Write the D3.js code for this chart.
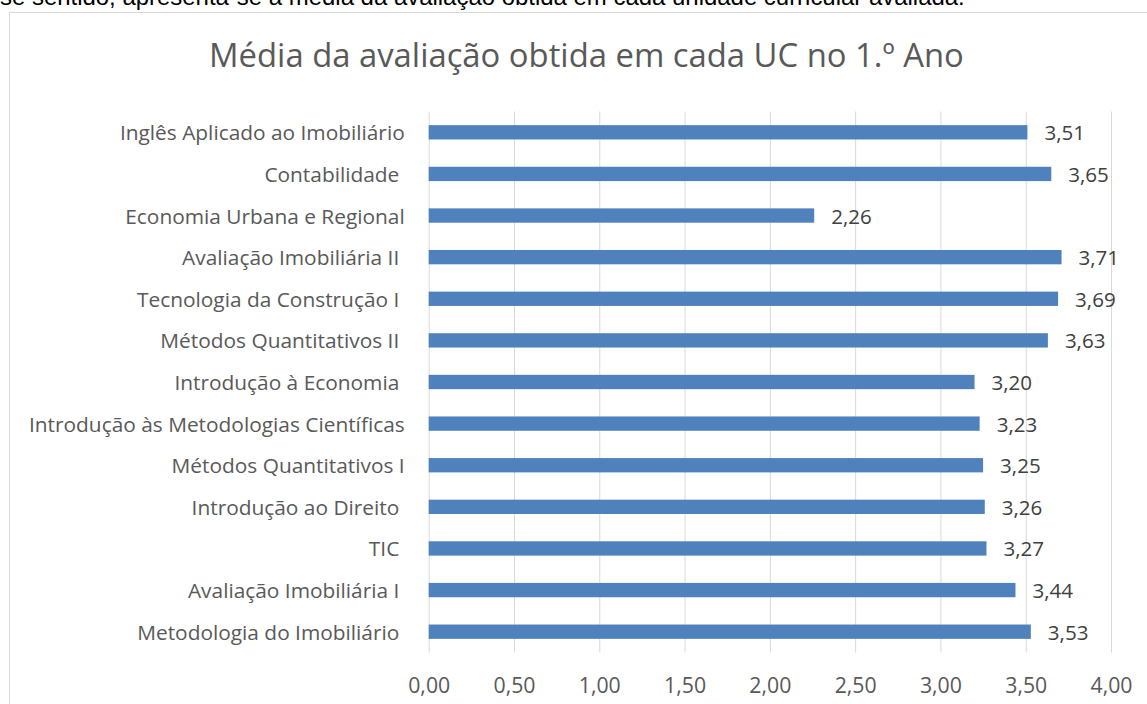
<!DOCTYPE html>
<html>
<head>
<meta charset="utf-8">
<script src="https://cdn.jsdelivr.net/npm/d3@7"></script>
<style>
  html, body { margin: 0; padding: 0; background: #fff; overflow: hidden; }
  svg { display: block; }
  text { white-space: pre; }
</style>
</head>
<body>
<script>
// data, top to bottom as shown (Excel labels keep their trailing spaces)
const categories = [
  "Inglês Aplicado ao Imobiliário",
  "Contabilidade ",
  "Economia Urbana e Regional",
  "Avaliação Imobiliária II ",
  "Tecnologia da Construção I ",
  "Métodos Quantitativos II ",
  "Introdução à Economia ",
  "Introdução às Metodologias Científicas",
  "Métodos Quantitativos I",
  "Introdução ao Direito ",
  "TIC ",
  "Avaliação Imobiliária I ",
  "Metodologia do Imobiliário "
];
const values = [3.51, 3.65, 2.26, 3.71, 3.69, 3.63, 3.20, 3.23, 3.25, 3.26, 3.27, 3.44, 3.53];
const xTicks = [0, 0.5, 1, 1.5, 2, 2.5, 3, 3.5, 4];
const chartTitle = "Média da avaliação obtida em cada UC no 1.º Ano";
const introText = "se sentido, apresenta-se a média da avaliação obtida em cada unidade curricular avaliada.";

const width = 1147, height = 704;
const font = "'Open Sans', sans-serif";
const pt = d3.formatLocale({decimal: ",", thousands: ".", grouping: [3], currency: ["", " €"]});
const fmt = pt.format(".2f");

const svg = d3.select("body").append("svg")
    .attr("width", width)
    .attr("height", height);

// pick a font size so a sample string gets the width it has in the picture
function fitSize(family, sample, target) {
  const t = svg.append("text").attr("font-family", family).attr("font-size", 100).text(sample);
  const w = t.node().getComputedTextLength();
  t.remove();
  return 100 * target / w;
}

const titleSize = fitSize(font, chartTitle, 755);
const catSize = fitSize(font, "Introdução às Metodologias Científicas", 376);
const valSize = fitSize(font, "2,26", 40.6);
const tickSize = fitSize(font, "3,50", 42);
const introSize = fitSize("'Liberation Sans', Arial, sans-serif", introText, 965);

// cut-off line of the document text above the chart
svg.append("text")
    .attr("x", 0)
    .attr("y", 5)
    .attr("font-family", "'Liberation Sans', Arial, sans-serif")
    .attr("font-size", introSize)
    .attr("fill", "#000")
    .text(introText);

// chart frame (runs off the right and bottom edge)
svg.append("rect")
    .attr("x", 9.5)
    .attr("y", 12.5)
    .attr("width", 1300)
    .attr("height", 900)
    .attr("fill", "#fff")
    .attr("stroke", "#d9d9d9")
    .attr("stroke-width", 1);

svg.append("text")
    .attr("x", 586.5)
    .attr("y", 67)
    .attr("text-anchor", "middle")
    .attr("font-family", font)
    .attr("font-size", titleSize)
    .attr("fill", "#595959")
    .text(chartTitle);

const plotLeft = 428.7, plotRight = 1111, plotTop = 111.5, plotBottom = 652.5;

const x = d3.scaleLinear()
    .domain([0, 4])
    .range([plotLeft, plotRight]);

const y = d3.scaleBand()
    .domain(categories)
    .range([plotTop, plotBottom])
    .paddingInner(0.656)
    .paddingOuter(0.328);

// vertical gridlines
const grid = svg.append("g")
    .attr("transform", `translate(0,${plotBottom})`)
    .call(d3.axisBottom(x).tickValues(xTicks).tickSize(-(plotBottom - plotTop)).tickFormat(""));
grid.select(".domain").remove();
grid.selectAll(".tick line").attr("stroke", "#d9d9d9").attr("stroke-width", 1);

// x tick labels
const xAxis = svg.append("g")
    .attr("transform", "translate(0,684)")
    .call(d3.axisBottom(x).tickValues(xTicks).tickSize(0).tickFormat(fmt));
xAxis.select(".domain").remove();
xAxis.selectAll("text")
    .attr("y", 0)
    .attr("dy", null)
    .attr("dominant-baseline", "central")
    .attr("font-family", font)
    .attr("font-size", tickSize)
    .attr("fill", "#595959");

// bars
svg.append("g")
    .attr("fill", "#4f81bd")
  .selectAll("rect")
  .data(values)
  .join("rect")
    .attr("x", x(0))
    .attr("y", (d, i) => y(categories[i]))
    .attr("width", d => x(d) - x(0))
    .attr("height", y.bandwidth());

// category labels
const yAxis = svg.append("g")
    .attr("transform", `translate(${plotLeft},0)`)
    .call(d3.axisLeft(y).tickSize(0));
yAxis.select(".domain").remove();
yAxis.selectAll("text")
    .attr("x", -24)
    .attr("dy", null)
    .attr("dominant-baseline", "central")
    .attr("text-anchor", "end")
    .attr("font-family", font)
    .attr("font-size", catSize)
    .attr("fill", "#595959");

// value labels
svg.append("g")
  .selectAll("text")
  .data(values)
  .join("text")
    .attr("x", d => x(d) + 17)
    .attr("y", (d, i) => y(categories[i]) + y.bandwidth() / 2)
    .attr("dominant-baseline", "central")
    .attr("font-family", font)
    .attr("font-size", valSize)
    .attr("fill", "#404040")
    .text(d => fmt(d));
</script>
</body>
</html>
